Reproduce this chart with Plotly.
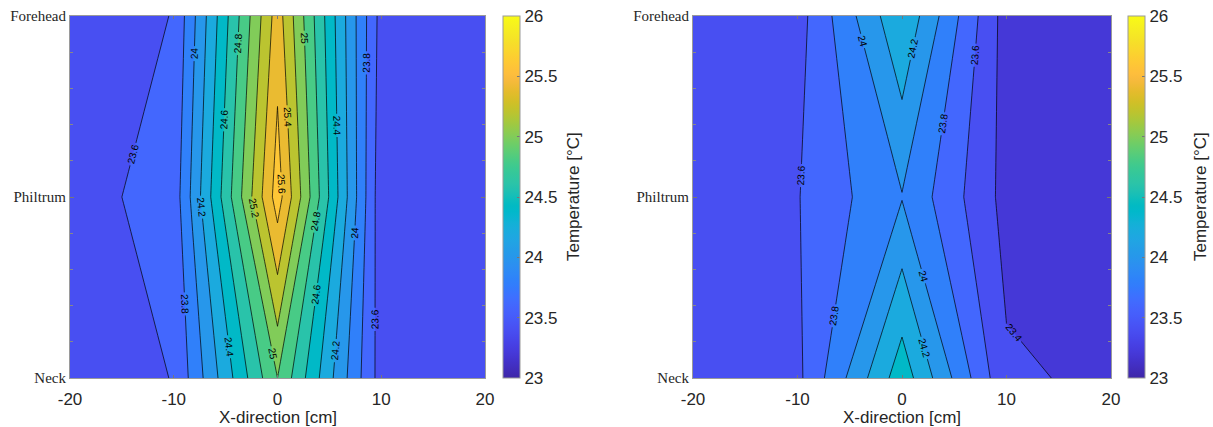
import plotly.graph_objects as go

# Grid of measurement positions
x_cm = [-20, -10, 0, 10, 20]
y_pos = [0, 1, 2]
y_labels = ["Neck", "Philtrum", "Forehead"]

# Temperatures [°C], rows = Neck, Philtrum, Forehead; columns follow x_cm
temp_left = [
    [23.50, 23.605, 25.00, 23.51, 23.50],
    [23.52, 23.680, 25.70, 23.47, 23.50],
    [23.50, 23.605, 25.50, 23.52, 23.50],
]
temp_right = [
    [23.50, 23.550, 24.52, 23.43, 23.36],
    [23.50, 23.590, 23.99, 23.33, 23.30],
    [23.50, 23.515, 24.38, 23.31, 23.30],
]

c_min, c_max, c_step = 23.0, 26.0, 0.2
cbar_ticks = [23, 23.5, 24, 24.5, 25, 25.5, 26]
cbar_ticktext = ["23", "23.5", "24", "24.5", "25", "25.5", "26"]
x_ticks = [-20, -10, 0, 10, 20]
x_ticktext = ["-20", "-10", "0", "10", "20"]

# MATLAB parula colormap (64 entries)
parula_rgb = [
    (0.2422, 0.1504, 0.6603), (0.2504, 0.1650, 0.7076), (0.2578, 0.1818, 0.7511), (0.2647, 0.1978, 0.7952),
    (0.2706, 0.2147, 0.8364), (0.2751, 0.2342, 0.8710), (0.2783, 0.2559, 0.8991), (0.2803, 0.2782, 0.9221),
    (0.2813, 0.3006, 0.9414), (0.2810, 0.3228, 0.9579), (0.2795, 0.3447, 0.9717), (0.2760, 0.3667, 0.9829),
    (0.2699, 0.3892, 0.9906), (0.2602, 0.4123, 0.9952), (0.2440, 0.4358, 0.9988), (0.2206, 0.4603, 0.9973),
    (0.1963, 0.4847, 0.9892), (0.1834, 0.5074, 0.9798), (0.1786, 0.5289, 0.9682), (0.1764, 0.5499, 0.9520),
    (0.1687, 0.5703, 0.9359), (0.1540, 0.5902, 0.9218), (0.1460, 0.6091, 0.9079), (0.1380, 0.6276, 0.8973),
    (0.1248, 0.6459, 0.8883), (0.1113, 0.6635, 0.8763), (0.0952, 0.6798, 0.8598), (0.0689, 0.6948, 0.8394),
    (0.0297, 0.7082, 0.8163), (0.0036, 0.7203, 0.7917), (0.0067, 0.7312, 0.7660), (0.0433, 0.7411, 0.7394),
    (0.0964, 0.7500, 0.7120), (0.1408, 0.7584, 0.6842), (0.1717, 0.7670, 0.6554), (0.1938, 0.7758, 0.6251),
    (0.2161, 0.7843, 0.5923), (0.2470, 0.7918, 0.5567), (0.2906, 0.7973, 0.5188), (0.3406, 0.8008, 0.4789),
    (0.3909, 0.8029, 0.4354), (0.4456, 0.8024, 0.3909), (0.5044, 0.7993, 0.3480), (0.5616, 0.7942, 0.3045),
    (0.6174, 0.7876, 0.2612), (0.6720, 0.7793, 0.2227), (0.7242, 0.7698, 0.1910), (0.7738, 0.7598, 0.1646),
    (0.8203, 0.7498, 0.1535), (0.8634, 0.7406, 0.1596), (0.9035, 0.7330, 0.1774), (0.9393, 0.7288, 0.2100),
    (0.9728, 0.7298, 0.2394), (0.9956, 0.7434, 0.2371), (0.9970, 0.7659, 0.2199), (0.9952, 0.7893, 0.2028),
    (0.9892, 0.8136, 0.1885), (0.9786, 0.8386, 0.1766), (0.9676, 0.8639, 0.1643), (0.9610, 0.8890, 0.1537),
    (0.9597, 0.9135, 0.1423), (0.9628, 0.9373, 0.1265), (0.9691, 0.9606, 0.1064), (0.9769, 0.9839, 0.0805),
]


def rgb_str(rgb):
    return "rgb({:d},{:d},{:d})".format(*(round(c * 255) for c in rgb))


n_cmap = len(parula_rgb)
parula = [[i / (n_cmap - 1), rgb_str(rgb)] for i, rgb in enumerate(parula_rgb)]

# Filled contours colour each band with the scale value at (level + step/2), the scale
# spanning [start - step/2, last level + step/2]. Shift it so that every band takes the
# parula colour of its lower level within [c_min, c_max].
n_levels = int((c_max - c_min) / c_step + 1e-6) + 1
fill_lo = c_min - c_step / 2
fill_hi = c_min + n_levels * c_step - c_step / 2
parula_fill = [[0.0, rgb_str(parula_rgb[0])]]
for i, rgb in enumerate(parula_rgb):
    v = c_min + (c_max - c_min) * i / (n_cmap - 1) + c_step / 2
    pos = min(1.0, (v - fill_lo) / (fill_hi - fill_lo))
    parula_fill.append([pos, rgb_str(rgb)])
if parula_fill[-1][0] < 1.0:
    parula_fill.append([1.0, rgb_str(parula_rgb[-1])])

TEXT = "#262626"
SANS = "Liberation Sans, Arial, sans-serif"
SERIF = "Liberation Serif, Times New Roman, serif"

W, H = 1213, 427
plot_top, plot_bottom = 16, 378
y_dom = [(H - plot_bottom) / H, (H - plot_top) / H]
panels = [
    dict(z=temp_left, xa="x", ya="y", x_px=(70, 485), cb_px=503, title_px=573),
    dict(z=temp_right, xa="x2", ya="y2", x_px=(693, 1111), cb_px=1128, title_px=1200),
]

fig = go.Figure()
annotations = []
for i, p in enumerate(panels):
    fig.add_trace(go.Contour(
        x=x_cm, y=y_pos, z=p["z"],
        colorscale=parula_fill,
        contours=dict(start=c_min, end=c_max, size=c_step, coloring="fill",
                      showlabels=True, labelformat="~g",
                      labelfont=dict(size=10, color="black", family=SANS)),
        line=dict(color="black", width=0.7, smoothing=0),
        showscale=False, hoverinfo="skip",
        xaxis=p["xa"], yaxis=p["ya"],
    ))
    # continuous colour bar
    fig.add_trace(go.Scatter(
        x=[None], y=[None], mode="markers", showlegend=False, hoverinfo="skip",
        xaxis=p["xa"], yaxis=p["ya"],
        marker=dict(color=[c_min], cmin=c_min, cmax=c_max, colorscale=parula, showscale=True,
                    colorbar=dict(
                        x=p["cb_px"] / W, xanchor="left", xpad=0, ypad=0,
                        y=y_dom[0], yanchor="bottom", len=y_dom[1] - y_dom[0], lenmode="fraction",
                        thickness=17, thicknessmode="pixels",
                        tickvals=cbar_ticks, ticktext=cbar_ticktext,
                        ticks="inside", ticklen=3, tickcolor="#777",
                        tickfont=dict(size=17, color=TEXT, family=SANS),
                        outlinewidth=1, outlinecolor="#9a9a9a",
                    )),
    ))
    annotations.append(dict(
        text="Temperature [°C]", textangle=-90, showarrow=False,
        xref="paper", yref="paper", x=p["title_px"] / W, y=(y_dom[0] + y_dom[1]) / 2,
        xanchor="center", yanchor="middle",
        font=dict(size=17, color=TEXT, family=SANS),
    ))
    annotations.append(dict(
        text="X-direction [cm]", showarrow=False,
        xref="paper", yref="paper", x=(p["x_px"][0] + p["x_px"][1]) / 2 / W, y=(H - 417) / H,
        xanchor="center", yanchor="middle",
        font=dict(size=17, color=TEXT, family=SANS),
    ))

axis_common = dict(showgrid=False, zeroline=False, showline=True, linecolor="#9a9a9a",
                   linewidth=1, mirror="allticks", automargin=False)
for i, p in enumerate(panels):
    sx = "" if i == 0 else "2"
    fig.layout["xaxis" + sx] = dict(
        axis_common, domain=[p["x_px"][0] / W, p["x_px"][1] / W], range=[-20, 20],
        anchor="y" + sx, tickvals=x_ticks, ticktext=x_ticktext,
        ticks="inside", ticklen=3, tickcolor="#777",
        ticklabelstandoff=6,
        tickfont=dict(size=17, color=TEXT, family=SANS),
    )
    fig.layout["yaxis" + sx] = dict(
        axis_common, domain=y_dom, range=[0, 2], anchor="x" + sx,
        tickvals=y_pos, ticktext=y_labels, ticks="inside", ticklen=4, tickcolor="#777",
        tickfont=dict(size=15, color=TEXT, family=SERIF),
        minor=dict(dtick=0.2, ticks="inside", ticklen=3, tickcolor="#888"),
    )

fig.update_layout(
    width=W, height=H, margin=dict(l=0, r=0, t=0, b=0, autoexpand=False),
    paper_bgcolor="white", plot_bgcolor="white",
    showlegend=False, annotations=annotations,
)

fig.write_html("out.html")
